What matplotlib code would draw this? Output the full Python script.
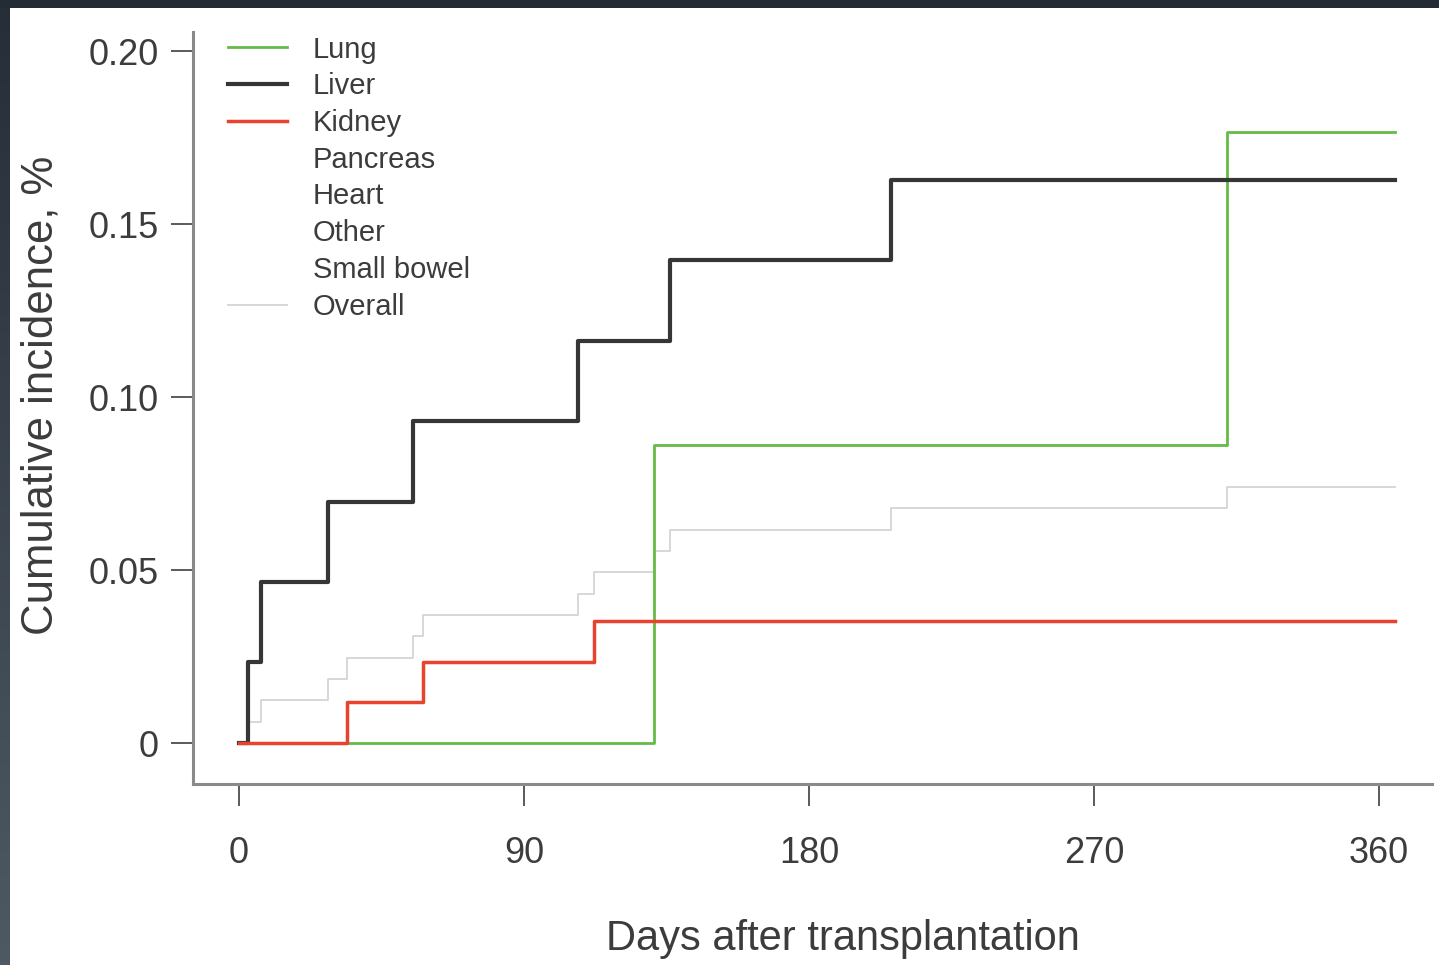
import numpy as np
import matplotlib
matplotlib.use('Agg')
import matplotlib.pyplot as plt
from matplotlib.lines import Line2D
from matplotlib.patches import Rectangle
from matplotlib.colors import LinearSegmentedColormap

plt.rcParams['font.family'] = ['Liberation Sans', 'DejaVu Sans']

# Cumulative incidence step data (days after transplantation)
lung_days = [0, 131, 312, 365]
lung_ci = [0.0, 0.0862, 0.1765, 0.1765]

liver_days = [0, 3, 7, 28, 55, 107, 136, 206, 365]
liver_ci = [0.0, 0.0233, 0.0465, 0.0698, 0.0930, 0.1163, 0.1395, 0.1628, 0.1628]

kidney_days = [0, 34, 58, 112, 365]
kidney_ci = [0.0, 0.0118, 0.0235, 0.0353, 0.0353]

overall_days = [0, 3, 7, 28, 34, 55, 58, 107, 112, 131, 136, 206, 312, 365]
overall_ci = [0.0, 0.0062, 0.0123, 0.0185, 0.0247, 0.0309, 0.0370, 0.0432,
              0.0494, 0.0556, 0.0617, 0.0679, 0.0741, 0.0741]

legend_labels = ['Lung', 'Liver', 'Kidney', 'Pancreas', 'Heart', 'Other',
                 'Small bowel', 'Overall']
x_ticks = [0, 90, 180, 270, 360]
y_ticks = [0, 0.05, 0.10, 0.15, 0.20]
y_ticklabels = ['0', '0.05', '0.10', '0.15', '0.20']

c_lung = '#66bb46'
c_liver = '#363636'
c_kidney = '#e8432e'
c_overall = '#d4d4d4'
c_text = '#3c3c3c'

W, H = 1439, 965
fig = plt.figure(figsize=(W / 100, H / 100), dpi=100, facecolor='#232b35')

# white page with dark border on top / left
fig.patches.append(Rectangle((10 / W, 0), 1 - 10 / W, (H - 8) / H,
                             transform=fig.transFigure, facecolor='white',
                             edgecolor='none', zorder=-10))
gax = fig.add_axes([0, 0, 10 / W, (H - 8) / H])
grad = np.linspace(0, 1, 256).reshape(-1, 1)
cmap = LinearSegmentedColormap.from_list('band', ['#262e38', '#4e5964'])
gax.imshow(grad, aspect='auto', cmap=cmap, extent=[0, 1, 0, 1], origin='upper')
gax.axis('off')

ax = fig.add_axes([192.7 / W, 1 - 784 / H, (1432 - 192.7) / W, (784 - 32) / H])
ax.set_facecolor('none')

ax.step(overall_days, overall_ci, where='post', color=c_overall, lw=1.3)
ax.step(lung_days, lung_ci, where='post', color=c_lung, lw=2.0)
ax.step(liver_days, liver_ci, where='post', color=c_liver, lw=3.0)
ax.step(kidney_days, kidney_ci, where='post', color=c_kidney, lw=2.5)

ax.set_xlim(-14.6, 376.7)
ax.set_ylim(-0.01185, 0.2055)

for s in ['top', 'right']:
    ax.spines[s].set_visible(False)
for s in ['left', 'bottom']:
    ax.spines[s].set_color('#8a8a8a')
    ax.spines[s].set_linewidth(2.2)

ax.set_xticks(x_ticks)
ax.set_yticks(y_ticks)
ax.set_yticklabels(y_ticklabels)
ax.tick_params(axis='both', length=16, width=1.4, color='#5a5a5a',
               labelsize=26, labelcolor=c_text)
ax.tick_params(axis='x', pad=21.5)
ax.tick_params(axis='y', pad=8.6)

ax.set_xlabel('Days after transplantation', fontsize=30, color=c_text)
ax.set_ylabel('Cumulative incidence, %', fontsize=31.5, color=c_text)
ax.xaxis.set_label_coords((842.5 - 192.7) / 1239.3, -(919 - 784) / 752)
ax.yaxis.set_label_coords((62 - 192.7) / 1239.3, (784 - 395) / 752)

# legend: only lung / liver / kidney / overall have visible lines
leg_colors = [c_lung, c_liver, c_kidney, 'none', 'none', 'none', 'none', c_overall]
leg_widths = [2.0, 3.0, 2.5, 1, 1, 1, 1, 1.3]
handles = [Line2D([], [], color=c, lw=w) for c, w in zip(leg_colors, leg_widths)]
leg = ax.legend(handles, legend_labels, loc='upper left',
                bbox_to_anchor=(228 / W, 1 - 35.5 / H),
                bbox_transform=fig.transFigure, frameon=False, fontsize=21,
                borderpad=0, borderaxespad=0, handlelength=2.02,
                handletextpad=0.89, labelspacing=0.30)
for t in leg.get_texts():
    t.set_color(c_text)

fig.savefig('out.png', dpi=100, facecolor=fig.get_facecolor())
